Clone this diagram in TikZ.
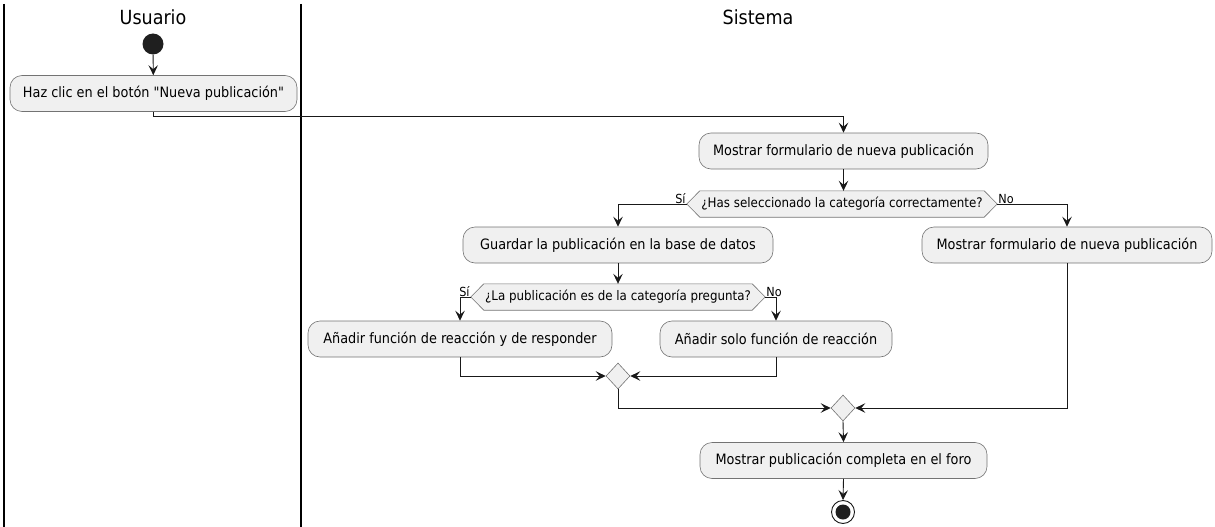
\documentclass[tikz,border=0pt]{standalone}
\usepackage{fontspec}
\setmainfont{DejaVu Sans Condensed}[Ligatures=TeXOff]
\usetikzlibrary{shapes.geometric,arrows.meta,backgrounds}
\begin{document}
\begin{tikzpicture}[x=1pt,y=-1pt,
  act/.style={draw=black!55, line width=0.6pt, fill=black!6, rounded corners=12pt,
    minimum height=36pt, inner sep=0pt, font=\fontsize{14.3}{16}\selectfont},
  dec/.style={minimum height=26pt, inner sep=0pt, font=\fontsize{13.2}{15}\selectfont},
  hex/.style={draw=black!55, line width=0.6pt, fill=black!6},
  arr/.style={-{Stealth[length=10pt,width=9.5pt,inset=4pt]}, line width=0.9pt, draw=black!90},
  merge/.style={diamond, draw=black!55, fill=black!6, line width=0.6pt, inner sep=0pt,
    minimum width=24pt, minimum height=26pt},
  lbl/.style={font=\fontsize{12.5}{14}\selectfont, inner sep=1pt},
  lane/.style={line width=1.1pt, draw=black},
  head/.style={font=\fontsize{19.5}{22}\selectfont}
]
\useasboundingbox (0,0) rectangle (1215,527);
% lanes
\coordinate (l0t) at (4,4);
\coordinate (l0b) at (4,527);
\coordinate (l1t) at (301,4);
\coordinate (l1b) at (301,527);
\draw[lane] (l0t) -- (l0b);
\draw[lane] (l1t) -- (l1b);
\node[head] (hu) at (153,17) {Usuario};
\node[head] (hs) at (758,17) {Sistema};
% start
\node[circle, fill=black!88, minimum size=21pt, inner sep=0pt] (start) at (153,44) {};
\node[act, minimum width=287pt] (a1) at (153.5,93.5) {Haz clic en el botón "Nueva publicación"};
\draw[arr] (start) -- (a1);
\node[act, minimum width=289pt] (a2) at (843.5,151) {Mostrar formulario de nueva publicación};
\draw[arr] (a1.south) -- ++(0,5) -| (a2.north);
% decision 1
\node[dec, minimum width=310pt] (d1) at (842,204) {¿Has seleccionado la categoría correctamente?};
\begin{pgfonlayer}{background}
\draw[hex] (d1.west) -- ([xshift=13pt]d1.north west) -- ([xshift=-13pt]d1.north east) -- (d1.east)
  -- ([xshift=-13pt]d1.south east) -- ([xshift=13pt]d1.south west) -- cycle;
\end{pgfonlayer}
\draw[arr] (a2.south) -- (a2.south |- d1.north);
\node[act, minimum width=310pt] (a3) at (618,245) {Guardar la publicación en la base de datos};
\node[act, minimum width=290pt] (a4) at (1067,245) {Mostrar formulario de nueva publicación};
\draw[arr] (d1.west) -| (a3.north);
\draw[arr] (d1.east) -| (a4.north);
\node[lbl, anchor=south east] (s1) at ([yshift=-1pt]d1.west) {Sí};
\node[lbl, anchor=south west] (n1) at ([yshift=-1pt]d1.east) {No};
% decision 2
\node[dec, minimum width=294pt] (d2) at (618,297) {¿La publicación es de la categoría pregunta?};
\begin{pgfonlayer}{background}
\draw[hex] (d2.west) -- ([xshift=13pt]d2.north west) -- ([xshift=-13pt]d2.north east) -- (d2.east)
  -- ([xshift=-13pt]d2.south east) -- ([xshift=13pt]d2.south west) -- cycle;
\end{pgfonlayer}
\draw[arr] (a3.south) -- (a3.south |- d2.north);
\node[act, minimum width=304pt] (a5) at (460,339) {Añadir función de reacción y de responder};
\node[act, minimum width=232pt] (a6) at (776,339) {Añadir solo función de reacción};
\draw[arr] (d2.west) -| (a5.north);
\draw[arr] (d2.east) -| (a6.north);
\node[lbl, anchor=south east] (s2) at ([yshift=-1pt]d2.west) {Sí};
\node[lbl, anchor=south west] (n2) at ([yshift=-1pt]d2.east) {No};
% merges
\node[merge] (m1) at (618,376) {};
\node[merge] (m2) at (843,408) {};
\draw[arr] (a5.south) |- (m1.west);
\draw[arr] (a6.south) |- (m1.east);
\draw[arr] (m1.south) |- (m2.west);
\draw[arr] (a4.south) |- (m2.east);
\node[act, minimum width=287pt] (a7) at (843.5,460.5) {Mostrar publicación completa en el foro};
\draw[arr] (m2.south) -- (a7.north);
% end
\node[circle, draw=black!90, line width=0.9pt, fill=white, minimum size=23pt, inner sep=0pt] (end) at (843,512) {};
\node[circle, fill=black!88, minimum size=15pt, inner sep=0pt] (endc) at (end) {};
\draw[arr] (a7.south) -- (end.north);
\end{tikzpicture}
\end{document}
